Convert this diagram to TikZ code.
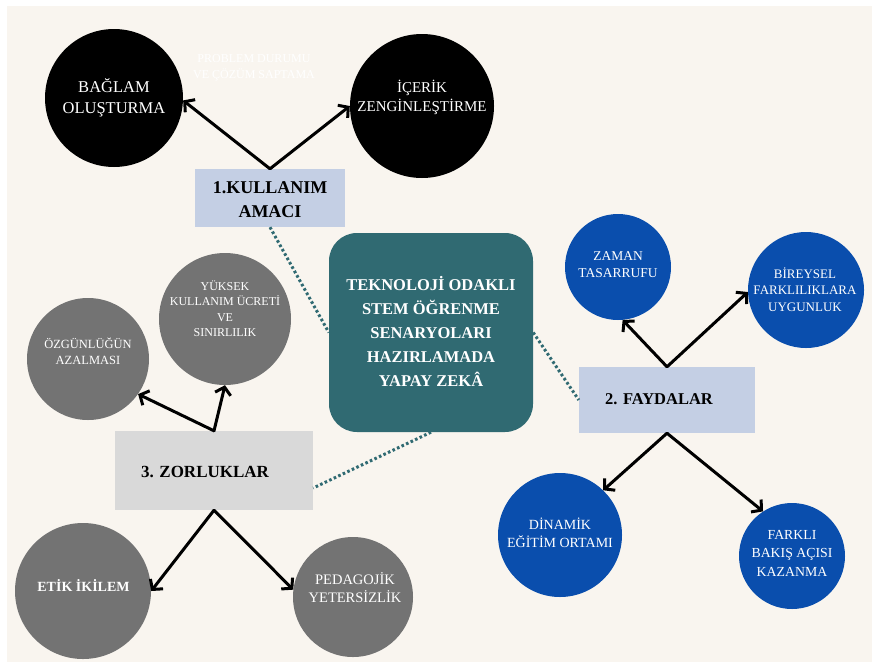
\documentclass[tikz,border=0pt]{standalone}
\usepackage{fontspec}
\setmainfont{Liberation Serif}
\usetikzlibrary{arrows.meta}
\definecolor{cream}{HTML}{F9F5EF}
\definecolor{tealc}{HTML}{306A72}
\definecolor{bluec}{HTML}{0A4EAD}
\definecolor{grayc}{HTML}{737373}
\definecolor{lblue}{HTML}{C4CFE4}
\definecolor{lgray}{HTML}{D9D9D9}
\tikzset{
  circ/.style={circle, inner sep=0pt, draw=none},
  ctext/.style={text=white, align=center, inner sep=0pt},
  boxtext/.style={align=center, inner sep=0pt, font=\bfseries\fontsize{17}{24}\selectfont},
  arr/.style={line width=3pt, -{Straight Barb[length=7pt 0,width=16pt 0]}, line cap=round, line join=round},
  dots/.style={tealc, line width=3pt, dash pattern=on 2.6pt off 2.4pt}
}
\newcommand{\fs}[2]{\fontsize{#1}{#2}\selectfont}
\begin{document}
\begin{tikzpicture}[x=1pt,y=-1pt]
\useasboundingbox (0,0) rectangle (872,662);
\fill[white] (0,0) rectangle (872,662);
\fill[cream] (7,6) rectangle (872,662);

% boxes
\node[fill=lblue, minimum width=150pt, minimum height=58pt, inner sep=0pt] (kb) at (270,198) {};
\node[boxtext, font=\bfseries\fs{18}{24}] (kbt) at (270,200) {1.KULLANIM\\AMACI};
\node[fill=tealc, rounded corners=28pt, minimum width=204pt, minimum height=199pt, inner sep=0pt] (cen) at (431,332.5) {};
\node[boxtext, text=white, font=\bfseries\fs{16.5}{24}] (cent) at (431,331.5) {TEKNOLOJİ ODAKLI\\STEM ÖĞRENME\\SENARYOLARI\\HAZIRLAMADA\\YAPAY ZEKÂ};
\node[fill=lblue, minimum width=176pt, minimum height=66pt, inner sep=0pt] (fay) at (667,400) {};
\node[boxtext, font=\bfseries\fs{16.5}{24}] (fayt) at (659,399) {2. FAYDALAR};
\node[fill=lgray, minimum width=198pt, minimum height=79pt, inner sep=0pt] (zor) at (214,470.5) {};
\node[boxtext] (zort) at (205,472) {3. ZORLUKLAR};

% dotted connectors
\draw[dots] (kb.south) -- (cen.west);
\draw[dots] (cen.east) -- (fay.west);
\draw[dots] (cen.south) -- (zor.-10);

% circles
\node[circ, fill=black, minimum size=138pt] (bag) at (114,98) {};
\node[ctext, font=\fs{16.5}{21.5}] (bagt) at (114,98) {BAĞLAM\\OLUŞTURMA};
\node[circ, fill=black, minimum size=144pt] (ice) at (422,106) {};
\node[ctext, font=\fs{15}{19}] (icet) at (422,97) {İÇERİK\\ZENGİNLEŞTİRME};
\node[ctext, font=\fs{12}{16}] (ghost) at (254,68) {PROBLEM DURUMU\\VE ÇÖZÜM SAPTAMA};

\node[circ, fill=bluec, minimum size=106pt] (zam) at (618,267) {};
\node[ctext, font=\fs{13.5}{17}] (zamt) at (618,265) {ZAMAN\\TASARRUFU};
\node[circ, fill=bluec, minimum size=116pt] (bir) at (806,290) {};
\node[ctext, font=\fs{13}{16.5}] (birt) at (805,289.5) {BİREYSEL\\FARKLILIKLARA\\UYGUNLUK};
\node[circ, fill=bluec, minimum size=124pt] (din) at (560,535) {};
\node[ctext, font=\fs{14}{18}] (dint) at (560,533) {DİNAMİK\\EĞİTİM ORTAMI};
\node[circ, fill=bluec, minimum size=106pt] (far) at (792,556) {};
\node[ctext, font=\fs{13.8}{18.5}] (fart) at (792,553) {FARKLI\\BAKIŞ AÇISI\\KAZANMA};

\node[circ, fill=grayc, minimum size=122pt] (ozg) at (88,359) {};
\node[ctext, font=\fs{12.5}{16}] (ozgt) at (88,351) {ÖZGÜNLÜĞÜN\\AZALMASI};
\node[circ, fill=grayc, minimum size=132pt] (yuk) at (225,319) {};
\node[ctext, font=\fs{12}{15.5}] (yukt) at (225,308.5) {YÜKSEK\\KULLANIM ÜCRETİ\\VE\\SINIRLILIK};
\node[circ, fill=grayc, minimum size=136pt] (etk) at (83,591) {};
\node[ctext, font=\bfseries\fs{14}{18}] (etkt) at (83.5,585) {ETİK İKİLEM};
\node[circ, fill=grayc, minimum size=120pt] (ped) at (353,597) {};
\node[ctext, font=\fs{14.5}{18}] (pedt) at (355,588) {PEDAGOJİK\\YETERSİZLİK};

% arrows
\draw[arr] (kb.north) -- (bag.-2);
\draw[arr] (kb.north) -- (ice.180);
\draw[arr] (fay.north) -- (zam.-85);
\draw[arr] (fay.north) -- (bir.182);
\draw[arr] (fay.south) -- (din.46);
\draw[arr] (fay.south) -- (far.123);
\draw[arr] (zor.north) -- (ozg.-35);
\draw[arr] (zor.north) -- (yuk.-90);
\draw[arr] (zor.south) -- (etk.0);
\draw[arr] (zor.south) -- (ped.173);
\end{tikzpicture}
\end{document}
